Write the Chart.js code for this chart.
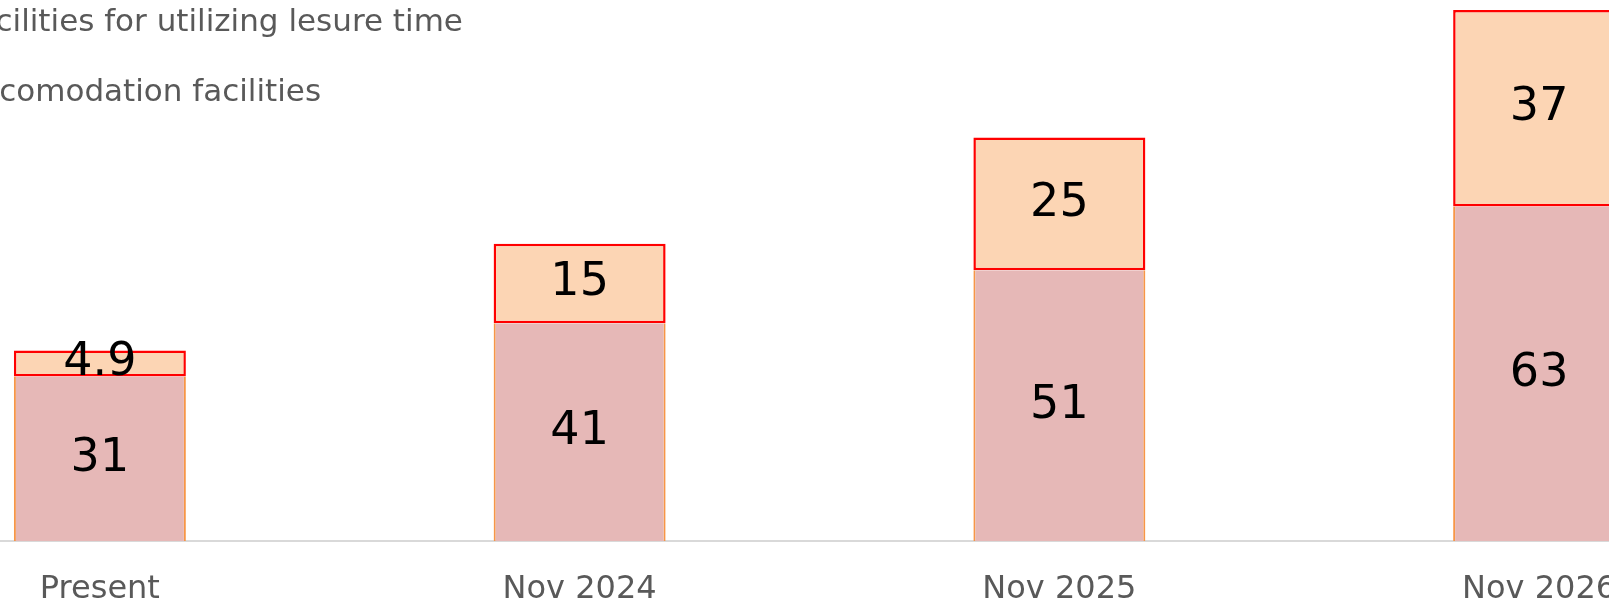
<!DOCTYPE html>
<html>
<head>
<meta charset="utf-8">
<script src="https://cdn.jsdelivr.net/npm/chart.js@4/dist/chart.umd.min.js"></script>
<style>
  html, body { margin: 0; padding: 0; background: #fff; overflow: hidden; width: 1609px; height: 602px; }
  #wrap { position: absolute; left: -200px; top: -20px; }
</style>
</head>
<body>
<div id="wrap"><canvas id="bars" width="2000" height="682"></canvas></div>
<script>
const categories = ['Present', 'Nov 2024', 'Nov 2025', 'Nov 2026'];
const accommodation = [31, 41, 51, 63];
const leisure = [4.9, 15, 25, 37];
const seriesNames = ['Accomodation facilities', 'Facilities for utilizing lesure time'];

// values written in the middle of each block
const valueLabels = {
  id: 'valueLabels',
  afterDatasetsDraw(chart) {
    const ctx = chart.ctx;
    ctx.save();
    ctx.font = '46px "DejaVu Sans", Verdana, sans-serif';
    ctx.fillStyle = '#000';
    ctx.textAlign = 'center';
    ctx.textBaseline = 'middle';
    chart.data.datasets.forEach((ds, i) => {
      chart.getDatasetMeta(i).data.forEach((bar, j) => {
        ctx.fillText(String(ds.data[j]), bar.x, (bar.y + bar.base) / 2);
      });
    });
    ctx.restore();
  }
};

new Chart('bars', {
  type: 'bar',
  data: {
    labels: categories,
    datasets: [
      {
        label: seriesNames[0],
        data: accommodation,
        backgroundColor: '#E6B8B7',
        borderColor: '#F79646',
        borderWidth: { left: 2, right: 2, top: 0, bottom: 0 },
        borderSkipped: false,
      },
      {
        label: seriesNames[1],
        data: leisure,
        backgroundColor: '#FCD5B4',
        borderColor: '#FF0000',
        borderWidth: 2.5,
        borderSkipped: false,
      },
    ],
  },
  options: {
    responsive: false,
    animation: false,
    layout: { padding: { left: 60, right: 21, top: 8.8, bottom: 24.6 } },
    datasets: { bar: { barPercentage: 0.3585, categoryPercentage: 1 } },
    scales: {
      x: {
        stacked: true,
        grid: { display: true, drawOnChartArea: false, drawTicks: false },
        border: { display: true, color: '#D9D9D9', width: 2 },
        ticks: {
          color: '#595959',
          padding: 29,
          font: { family: '"DejaVu Sans", Verdana, sans-serif', size: 32 },
        },
      },
      y: {
        stacked: true,
        display: false,
        min: 0,
        max: 104,
      },
    },
    plugins: {
      tooltip: { enabled: false },
      legend: {
        position: 'chartArea',
        align: 'start',
        reverse: true,
        labels: {
          boxWidth: 69.5,
          boxHeight: 53.5,
          padding: 16.5,
          color: '#595959',
          font: { family: '"DejaVu Sans", Verdana, sans-serif', size: 31 },
        },
      },
    },
  },
  plugins: [valueLabels],
});
</script>
</body>
</html>
